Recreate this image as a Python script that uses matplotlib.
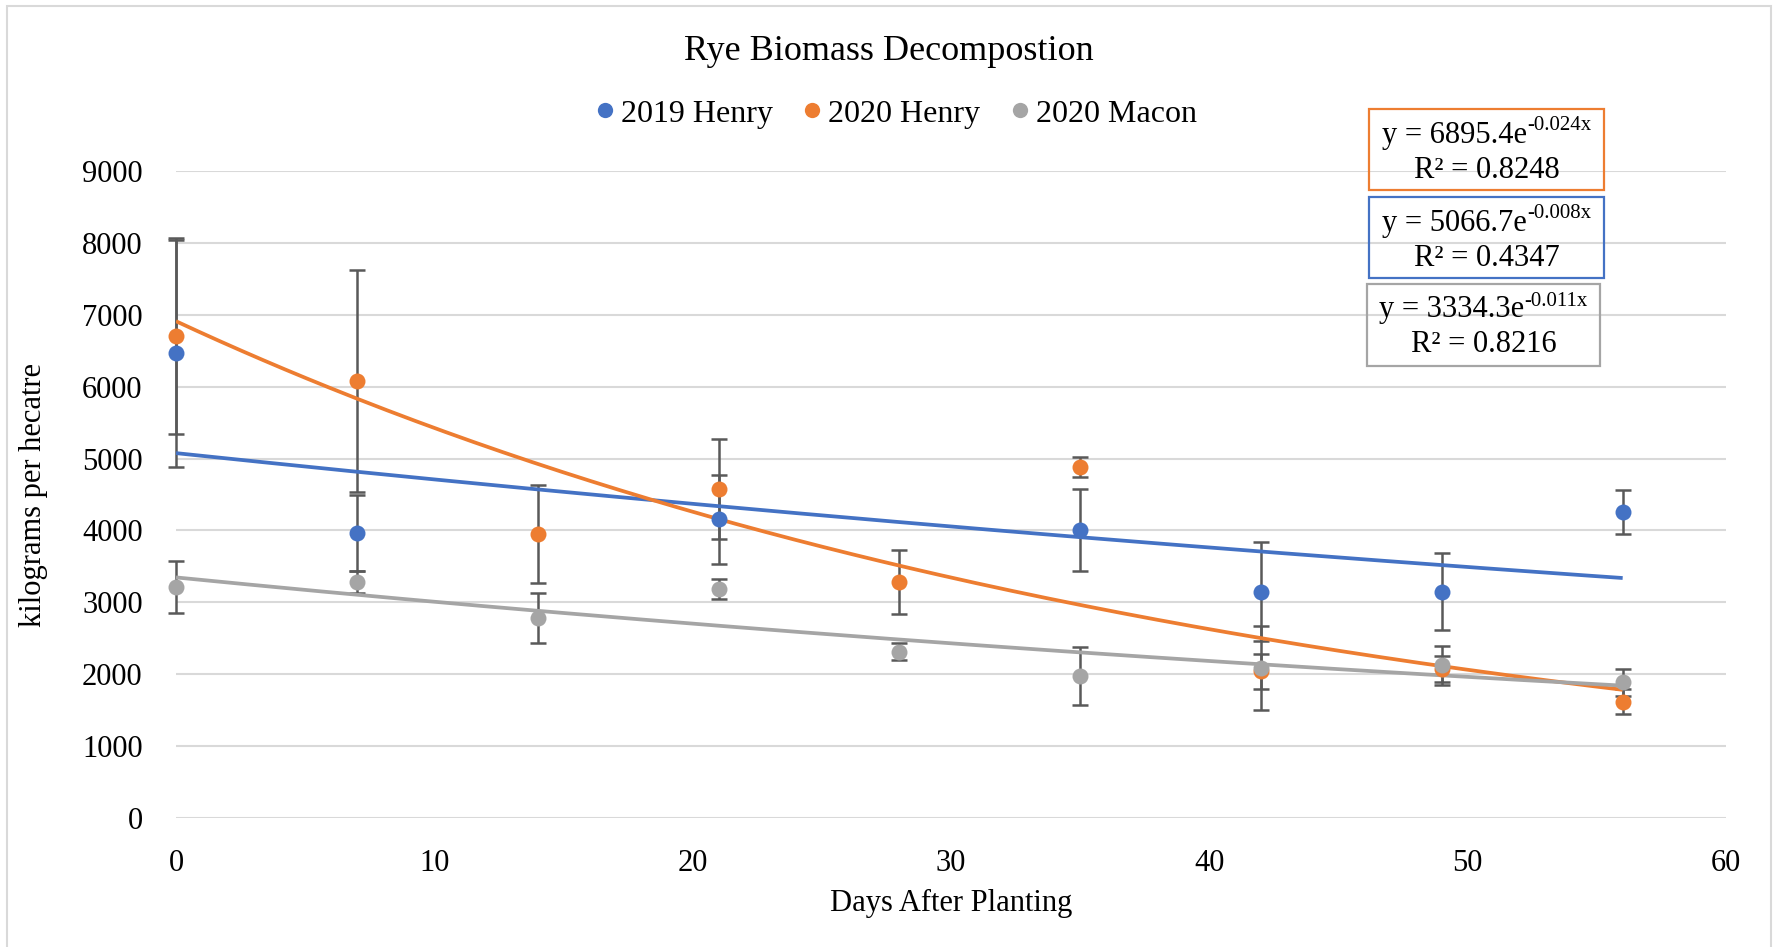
import numpy as np
import matplotlib
matplotlib.use("Agg")
import matplotlib.pyplot as plt
from matplotlib.lines import Line2D
from matplotlib.patches import Rectangle

# ---------------- data ----------------
days_2019_henry = [0, 7, 21, 35, 42, 49, 56]
vals_2019_henry = [6466, 3964, 4155, 4011, 3148, 3150, 4257]
err_2019_henry = [1580, 530, 615, 570, 690, 540, 310]

days_2020_henry = [0, 7, 14, 21, 28, 35, 42, 49, 56]
vals_2020_henry = [6703, 6081, 3946, 4577, 3282, 4883, 2042, 2075, 1620]
err_2020_henry = [1360, 1545, 680, 695, 450, 145, 242, 180, 170]

days_2020_macon = [0, 7, 14, 21, 28, 35, 42, 49, 56]
vals_2020_macon = [3212, 3282, 2781, 3189, 2316, 1972, 2089, 2124, 1889]
err_2020_macon = [360, 150, 350, 140, 120, 400, 580, 270, 190]

series_names = ["2019 Henry", "2020 Henry", "2020 Macon"]
colors = ["#4472C4", "#ED7D31", "#A5A5A5"]

eq_bases = ["y = 6895.4e", "y = 5066.7e", "y = 3334.3e"]
eq_exps = ["-0.024x", "-0.008x", "-0.011x"]
r2_texts = ["R² = 0.8248", "R² = 0.4347", "R² = 0.8216"]
eq_colors = ["#ED7D31", "#4472C4", "#A5A5A5"]

title = "Rye Biomass Decompostion"
xlabel = "Days After Planting"
ylabel = "kilograms per hecatre"
xticks = [0, 10, 20, 30, 40, 50, 60]
yticks = [0, 1000, 2000, 3000, 4000, 5000, 6000, 7000, 8000, 9000]

# ---------------- style ----------------
plt.rcParams['font.family'] = ['Liberation Serif', 'DejaVu Serif']

W, H = 1777, 947
fig = plt.figure(figsize=(W / 100, H / 100), dpi=100)


def fx(px):
    return px / W


def fy(py):
    return 1 - py / H


ax = fig.add_axes([fx(176), fy(818), (1726 - 176) / W, (818 - 171) / H])

FS = 22
grid_c = "#D9D9D9"
err_c = "#595959"

all_days = [days_2019_henry, days_2020_henry, days_2020_macon]
all_vals = [vals_2019_henry, vals_2020_henry, vals_2020_macon]
all_errs = [err_2019_henry, err_2020_henry, err_2020_macon]

for d, v, e, c in zip(all_days, all_vals, all_errs, colors):
    ax.errorbar(d, v, yerr=e, fmt='none', ecolor=err_c, elinewidth=1.8,
                capsize=6, capthick=1.8, zorder=3, clip_on=False)

for d, v, c in zip(all_days, all_vals, colors):
    d = np.asarray(d, float)
    v = np.asarray(v, float)
    m, b = np.polyfit(d, np.log(v), 1)
    xx = np.linspace(d.min(), d.max(), 200)
    ax.plot(xx, np.exp(b) * np.exp(m * xx), color=c, lw=2.7, zorder=4,
            solid_capstyle='butt')

for d, v, c in zip(all_days, all_vals, colors):
    ax.plot(d, v, 'o', color=c, markersize=11.5, markeredgewidth=0,
            zorder=5, clip_on=False)

ax.set_xlim(0, 60)
ax.set_ylim(0, 9000)
ax.set_xticks(xticks)
ax.set_yticks(yticks)
ax.tick_params(axis='both', length=0, labelsize=FS)
ax.tick_params(axis='x', pad=22)
ax.tick_params(axis='y', pad=24)
ax.grid(axis='y', color=grid_c, lw=1.5, zorder=0)
ax.set_axisbelow(True)
for s in ax.spines.values():
    s.set_visible(False)

# titles / labels
fig.text(0.5, fy(51), title, ha='center', va='center', fontsize=26)
fig.text(fx(951), fy(903), xlabel, ha='center', va='center', fontsize=FS)
fig.text(fx(34), fy(495), ylabel, ha='center', va='center', fontsize=FS,
         rotation=90)

# legend
handles = [Line2D([], [], ls='none', marker='o', color=c, markersize=11,
                  markeredgewidth=0) for c in colors]
fig.legend(handles, series_names, loc='center', bbox_to_anchor=(fx(893), fy(114)),
           ncol=3, frameon=False, fontsize=23, handletextpad=0.0,
           columnspacing=0.75, handlelength=1.0, borderpad=0)

# equation boxes
boxes = [(1369, 109, 1604, 190), (1369, 197, 1604, 278), (1367, 284, 1600, 366)]
fig.canvas.draw()
renderer = fig.canvas.get_renderer()
for (x0, y0, x1, y1), base, ex, r2, c in zip(boxes, eq_bases, eq_exps,
                                              r2_texts, eq_colors):
    fig.add_artist(Rectangle((fx(x0), fy(y1)), (x1 - x0) / W, (y1 - y0) / H,
                             transform=fig.transFigure, fill=False,
                             edgecolor=c, lw=1.6))
    cx = (x0 + x1) / 2
    t_base = fig.text(0, fy(y0 + 26), base, ha='left', va='center', fontsize=FS)
    t_exp = fig.text(0, fy(y0 + 17), ex, ha='left', va='center', fontsize=15)
    wb = t_base.get_window_extent(renderer).width
    we = t_exp.get_window_extent(renderer).width
    start = cx - (wb + we) / 2
    t_base.set_x(fx(start))
    t_exp.set_x(fx(start + wb))
    fig.text(fx(cx), fy(y0 + 61), r2, ha='center', va='center', fontsize=FS)

# chart border
fig.add_artist(Rectangle((fx(7), fy(960)), (1771 - 7) / W, (960 - 6) / H,
                         transform=fig.transFigure, fill=False,
                         edgecolor=grid_c, lw=1.5))

fig.savefig("out.png", dpi=100)
